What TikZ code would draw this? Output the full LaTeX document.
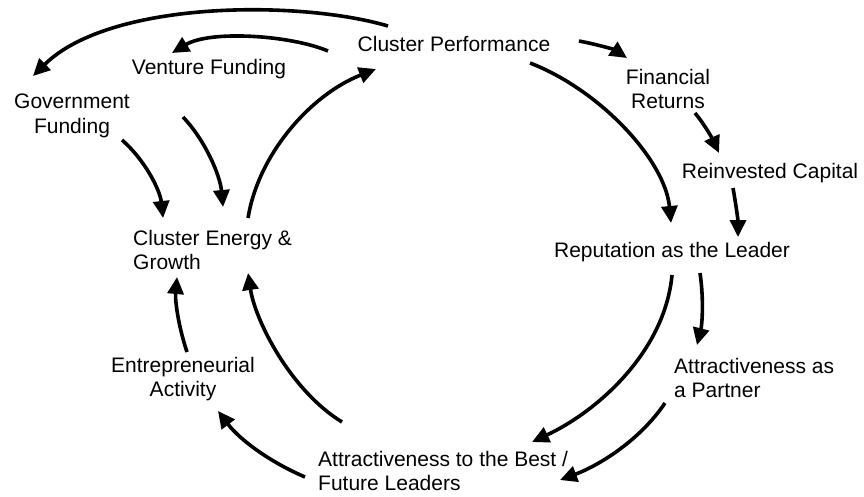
\documentclass[tikz,border=0pt]{standalone}
\usepackage{fontspec}
\setmainfont{Liberation Sans}
\usetikzlibrary{arrows.meta,calc}
\begin{document}
\begin{tikzpicture}[x=1pt,y=-1pt,
  lbl/.style={inner sep=0pt,font=\fontsize{21}{24.5}\selectfont},
  flow/.style={line width=3.6pt,-{Triangle[length=17pt,width=16pt]}}]
\useasboundingbox (0,0) rectangle (864,496);

% factors of the loop
\node[lbl] (cp) at (454,44) {Cluster Performance};
\node[lbl] (vf) at (209,69) {Venture Funding};
\node[lbl,align=center] (gf) at (72,116) {Government\\Funding};
\node[lbl,align=left,anchor=west] (ce) at (133,250) {Cluster Energy \&\\Growth};
\node[lbl,align=center] (fr) at (668,89) {Financial\\Returns};
\node[lbl] (rc) at (770,173) {Reinvested Capital};
\node[lbl] (rep) at (672,252) {Reputation as the Leader};
\node[lbl,align=left,anchor=west] (ap) at (674,378) {Attractiveness as\\a Partner};
\node[lbl,align=left,anchor=west] (best) at (318,471) {Attractiveness to the Best /\\Future Leaders};
\node[lbl,align=center] (ea) at (183,379) {Entrepreneurial\\Activity};

% causal links
\draw[flow] ($(cp)+(-66,-18)$) .. controls (300,0) and (110,0) .. ($(gf)+(-39,-40)$);
\draw[flow] ($(cp)+(-126,7)$) .. controls (290,35) and (210,30) .. ($(vf)+(-37,-16)$);
\draw[flow] ($(gf)+(50,24)$) .. controls (145,160) and (160,190) .. ($(ce.center)+(-49.5,-32)$);
\draw[flow] ($(vf)+(-26,48)$) .. controls (205,140) and (220,175) .. ($(ce.center)+(10.5,-43)$);
\draw[flow] ($(ce.center)+(35.5,-32)$) .. controls (258,155) and (310,95) .. ($(cp)+(-78,25)$);
\draw[flow] ($(cp)+(125,-3)$) .. controls (600,45) and (615,50) .. ($(fr)+(-41,-31)$);
\draw[flow] ($(cp)+(76,19)$) .. controls (600,90) and (665,160) .. ($(rep)+(-1,-29)$);
\draw[flow] ($(fr)+(27,24)$) .. controls (705,125) and (713,140) .. ($(rc)+(-51,-20)$);
\draw[flow] ($(rc)+(-37,15)$) .. controls (736,205) and (738,220) .. ($(rep)+(66,-15)$);
\draw[flow] ($(rep)+(0,23)$) .. controls (665,350) and (600,410) .. ($(best.west)+(214,-29)$);
\draw[flow] ($(rep)+(28,21)$) .. controls (704,300) and (702,325) .. ($(ap.west)+(23,-33)$);
\draw[flow] ($(ap.west)+(-9,25)$) .. controls (640,440) and (600,465) .. ($(best.west)+(242,9)$);
\draw[flow] ($(best.west)+(24,-49)$) .. controls (290,390) and (255,320) .. ($(ce.center)+(35.5,23)$);
\draw[flow] ($(best.west)+(-13,6)$) .. controls (270,462) and (240,440) .. ($(ea)+(35,32)$);
\draw[flow] ($(ea)+(4,-27)$) .. controls (178,325) and (175,300) .. ($(ce.center)+(-35.5,27)$);
\end{tikzpicture}
\end{document}
